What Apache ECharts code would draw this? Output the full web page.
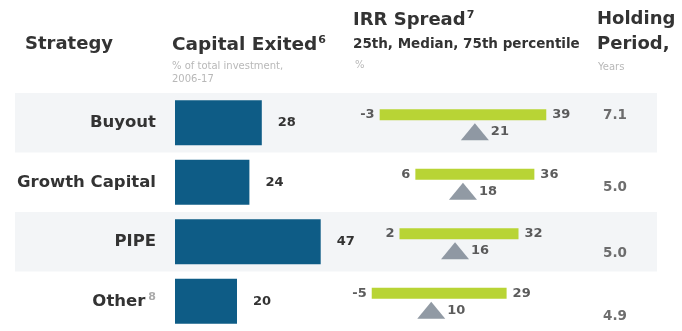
<!DOCTYPE html>
<html>
<head>
<meta charset="utf-8">
<script src="https://cdn.jsdelivr.net/npm/echarts@6/dist/echarts.min.js"></script>
<style>
    html, body { margin: 0; padding: 0; background: #fff; }
    #chart { width: 682px; height: 331px; }
</style>
</head>
<body>
<div id="chart"></div>
<script>
// data
let strategies = ['Buyout', 'Growth Capital', 'PIPE', 'Other'];
let capitalExited = [28, 24, 47, 20];      // % of total investment, 2006-17
let irr25 = [-3, 6, 2, -5];                // IRR spread, 25th percentile
let irrMedian = [21, 18, 16, 10];
let irr75 = [39, 36, 32, 29];
let holdingYears = ['7.1', '5.0', '5.0', '4.9'];

// label nudges for the holding period column (style, not data)
let holdDy = [-7, 5, 12, 15];

let dark = '#333333';
let font = 'DejaVu Sans';

let myChart = echarts.init(document.getElementById('chart'));

let rowAxis = function (grid, showLabel) {
    return {
        type: 'category', gridIndex: grid, inverse: true, data: strategies,
        axisLine: { show: false }, axisTick: { show: false },
        axisLabel: showLabel ? {
            margin: 19, color: dark, fontFamily: font, fontWeight: 'bold', fontSize: 16.5,
            formatter: function (v) { return v === 'Other' ? 'Other{s|8}' : v; },
            rich: { s: { fontSize: 11, color: '#aaa', fontFamily: font, padding: [0, 0, 9, 3] } }
        } : { show: false },
        splitArea: grid === 0 ? { show: true, areaStyle: { color: ['#f3f5f7', 'rgba(255,255,255,0)'] } } : { show: false }
    };
};
let hiddenX = function (grid, min, max) {
    return { type: 'value', gridIndex: grid, min: min, max: max, show: false, splitLine: { show: false } };
};

let valueLabel = { color: dark, fontFamily: font, fontWeight: 'bold', fontSize: 13 };

myChart.setOption({
    animation: false,
    grid: [
        { left: 15, width: 642, top: 93, height: 240 },   // row bands
        { left: 175, width: 310, top: 93, height: 240 },  // capital exited
        { left: 340, width: 238, top: 93, height: 240 },  // IRR spread
        { left: 590, width: 50, top: 93, height: 240 }    // holding period
    ],
    xAxis: [hiddenX(0, 0, 1), hiddenX(1, 0, 100), hiddenX(2, -13, 47), hiddenX(3, 0, 1)],
    yAxis: [rowAxis(0, false), rowAxis(1, true), rowAxis(2, false), rowAxis(3, false)],
    graphic: [
        { type: 'text', left: 25, top: 35, style: { text: 'Strategy', fill: dark, font: 'bold 18px ' + font } },
        { type: 'text', left: 172, top: 35, style: {
            text: 'Capital Exited{s|6}', fill: dark, font: 'bold 18.5px ' + font,
            rich: { s: { fontSize: 11, fontWeight: 'bold', fill: dark, fontFamily: font, padding: [0, 0, 10, 1] } } } },
        { type: 'text', left: 172, top: 60, style: {
            text: '% of total investment,\n2006-17', fill: '#b8b8b8', font: '10px ' + font, lineHeight: 13 } },
        { type: 'text', left: 353, top: 10, style: {
            text: 'IRR Spread{s|7}', fill: dark, font: 'bold 18px ' + font,
            rich: { s: { fontSize: 11, fontWeight: 'bold', fill: dark, fontFamily: font, padding: [0, 0, 10, 1] } } } },
        { type: 'text', left: 353, top: 37, style: { text: '25th, Median, 75th percentile', fill: dark, font: 'bold 13.5px ' + font } },
        { type: 'text', left: 355, top: 60, style: { text: '%', fill: '#b8b8b8', font: '10px ' + font } },
        { type: 'text', left: 597, top: 10, style: { text: 'Holding', fill: dark, font: 'bold 18px ' + font } },
        { type: 'text', left: 597, top: 35, style: { text: 'Period,', fill: dark, font: 'bold 18px ' + font } },
        { type: 'text', left: 598, top: 62, style: { text: 'Years', fill: '#b8b8b8', font: '10px ' + font } }
    ],
    series: [
        {
            // empty series so the band grid is drawn
            type: 'scatter', xAxisIndex: 0, yAxisIndex: 0, symbolSize: 0, silent: true,
            data: strategies.map(function (s) { return [0, s]; })
        },
        {
            name: 'Capital Exited', type: 'bar', xAxisIndex: 1, yAxisIndex: 1,
            barWidth: 45, data: capitalExited,
            itemStyle: { color: '#0e5c86' },
            label: Object.assign({ show: true, position: 'right', distance: 16 }, valueLabel)
        },
        {
            name: 'IRR range', type: 'custom', xAxisIndex: 2, yAxisIndex: 2,
            data: strategies.map(function (s, i) { return [irr25[i], irr75[i], i]; }),
            renderItem: function (params, api) {
                let lo = api.coord([api.value(0), api.value(2)]);
                let hi = api.coord([api.value(1), api.value(2)]);
                return {
                    type: 'rect',
                    shape: { x: lo[0], y: lo[1] - 13.5, width: hi[0] - lo[0], height: 11 },
                    style: { fill: '#b8d435' }
                };
            }
        },
        {
            name: '25th', type: 'scatter', xAxisIndex: 2, yAxisIndex: 2, symbolSize: 0,
            data: strategies.map(function (s, i) { return [irr25[i], s]; }),
            label: Object.assign({ show: true, position: 'left', distance: 5, offset: [0, -8],
                formatter: function (p) { return p.value[0]; } }, valueLabel)
        },
        {
            name: '75th', type: 'scatter', xAxisIndex: 2, yAxisIndex: 2, symbolSize: 0,
            data: strategies.map(function (s, i) { return [irr75[i], s]; }),
            label: Object.assign({ show: true, position: 'right', distance: 6, offset: [0, -8],
                formatter: function (p) { return p.value[0]; } }, valueLabel)
        },
        {
            name: 'Median', type: 'scatter', xAxisIndex: 2, yAxisIndex: 2,
            symbol: 'triangle', symbolSize: [28, 17], symbolOffset: [0, 9],
            itemStyle: { color: '#76818d' },
            data: strategies.map(function (s, i) { return [irrMedian[i], s]; }),
            label: Object.assign({ show: true, position: 'right', distance: 2,
                formatter: function (p) { return p.value[0]; } }, valueLabel)
        },
        {
            name: 'Holding', type: 'scatter', xAxisIndex: 3, yAxisIndex: 3, symbolSize: 0,
            data: strategies.map(function (s, i) {
                return { value: [0.5, s], label: { offset: [0, holdDy[i]] } };
            }),
            label: { show: true, position: 'inside', color: '#4a4a4a', fontFamily: font, fontWeight: 'bold', fontSize: 13.5,
                formatter: function (p) { return holdingYears[p.dataIndex]; } }
        }
    ]
});
</script>
</body>
</html>
